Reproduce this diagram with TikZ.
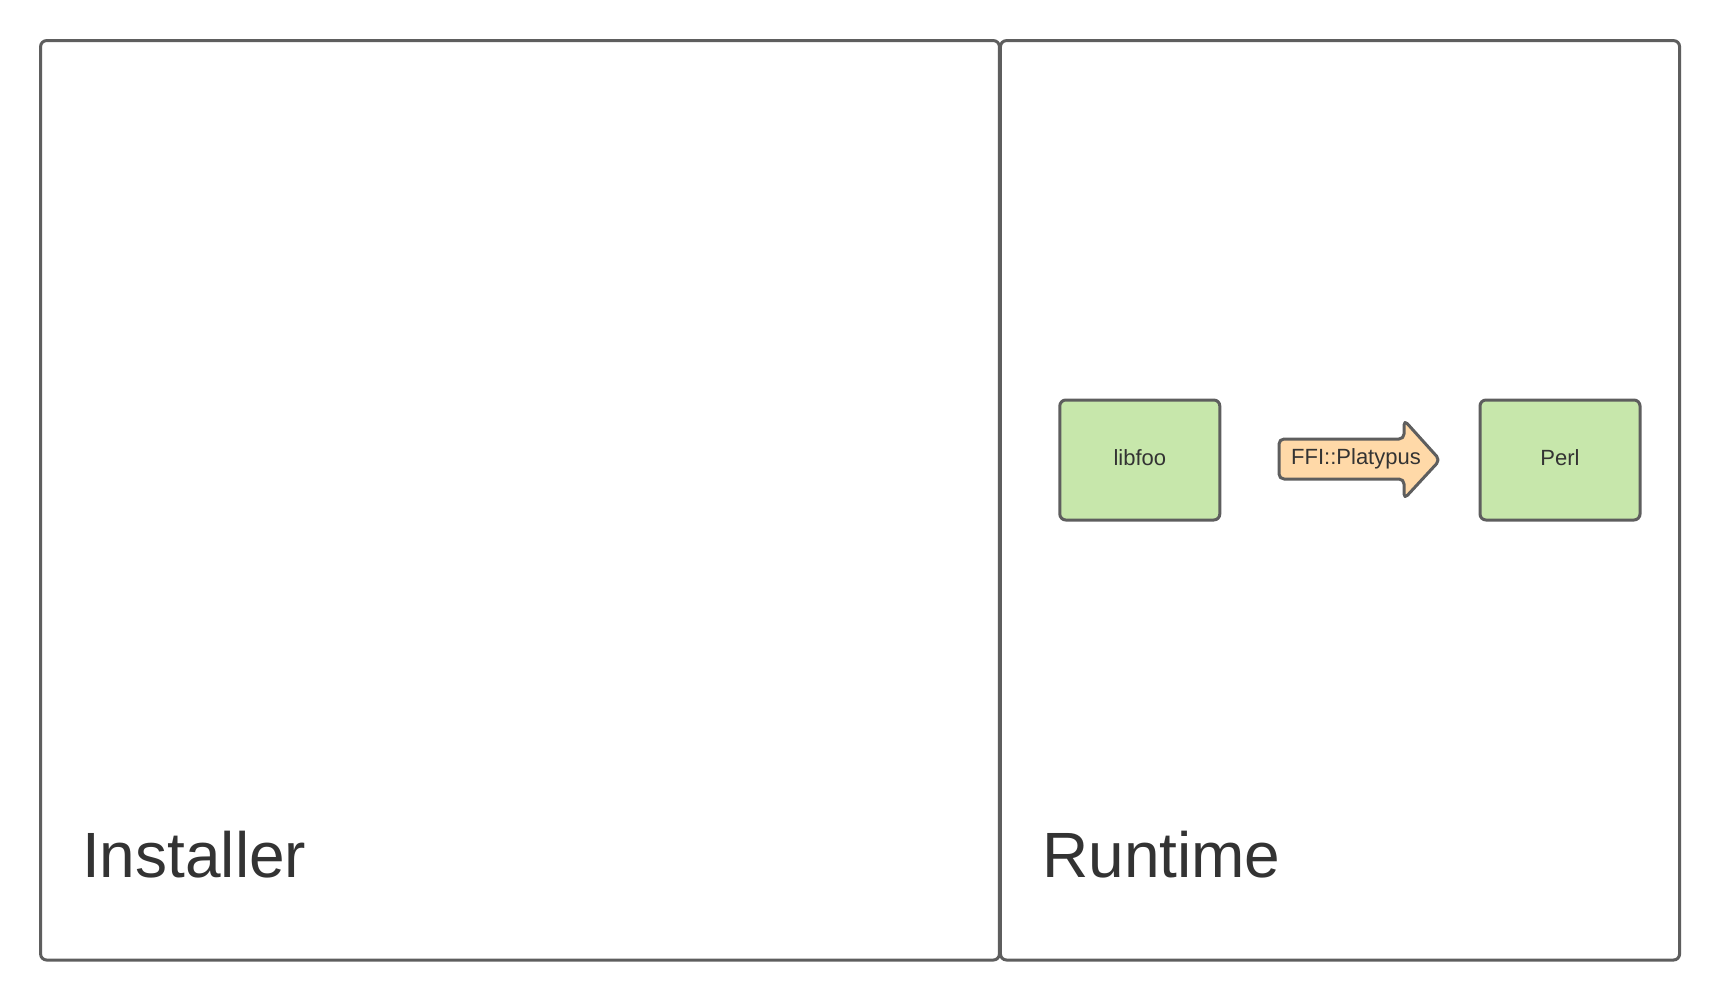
\documentclass[tikz,border=0pt]{standalone}
\usepackage{fontspec}
\setmainfont{Liberation Sans}
\definecolor{strokec}{HTML}{5E5E5E}
\definecolor{textc}{HTML}{333333}
\definecolor{greenf}{HTML}{C7E7AB}
\definecolor{orangef}{HTML}{FFD9A8}
\tikzset{
  panel/.style={draw=strokec, line width=3pt, rounded corners=6pt, inner sep=0pt},
  greenbox/.style={draw=strokec, line width=3pt, rounded corners=6pt, fill=greenf,
    minimum width=160pt, minimum height=120pt, inner sep=0pt, text=textc,
    text depth=5pt, font=\fontsize{22}{26}\selectfont},
  biglabel/.style={inner sep=0pt, text=textc, font=\fontsize{64}{77}\selectfont, anchor=base west},
  arrowshape/.style={draw=strokec, line width=3pt, fill=orangef, rounded corners=5pt, line join=round},
  arrowtext/.style={inner sep=0pt, text=textc, font=\fontsize{22}{26}\selectfont}
}
\begin{document}
\begin{tikzpicture}[x=1pt,y=-1pt]
\useasboundingbox (0,0) rectangle (1720,1000);
\fill[white] (0,0) rectangle (1720,1000);
% panels
\node[panel, minimum width=958.8pt, minimum height=919.4pt] (installer) at (520,500.3) {};
\node[panel, minimum width=679.1pt, minimum height=919.4pt] (runtime) at (1340,500.3) {};
\node[biglabel] (installerlabel) at (82,877) {Installer};
\node[biglabel] (runtimelabel) at (1042,877) {Runtime};
% boxes
\node[greenbox] (libfoo) at (1139.8,460) {libfoo};
\node[greenbox] (perl) at (1560,460) {Perl};
% arrow
\path[arrowshape] (1279,439) -- (1404,439) -- (1404,420) -- (1440,460) -- (1404,499) -- (1404,479) -- (1279,479) -- cycle;
\node[arrowtext] (ffi) at (1356,459) {FFI::Platypus};
\end{tikzpicture}
\end{document}
